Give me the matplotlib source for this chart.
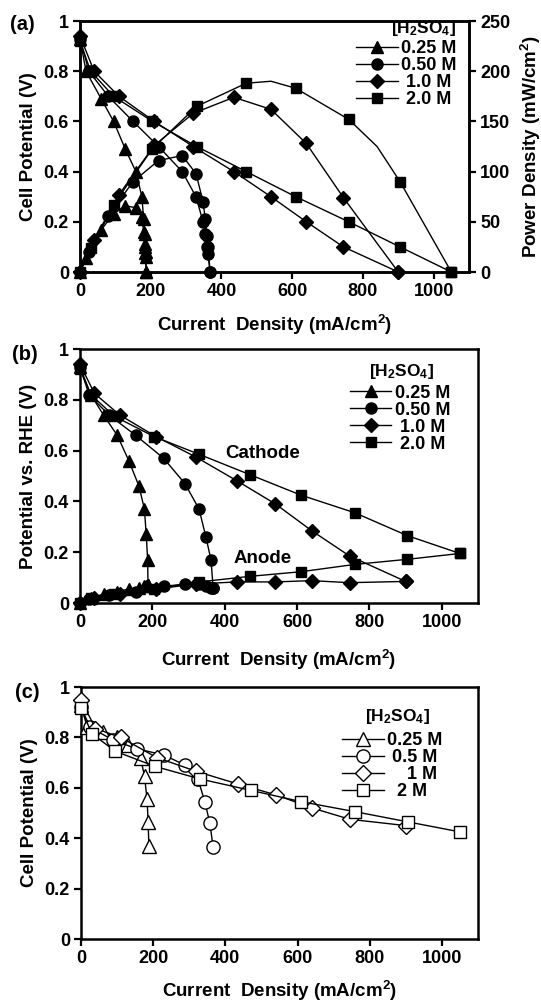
import matplotlib
matplotlib.use('Agg')
import matplotlib.pyplot as plt
from matplotlib.lines import Line2D
from matplotlib.ticker import FuncFormatter

plt.rcParams['font.family'] = ['Liberation Sans', 'DejaVu Sans']
plt.rcParams['font.weight'] = 'bold'
plt.rcParams['axes.labelweight'] = 'bold'
plt.rcParams['mathtext.fontset'] = 'custom'
plt.rcParams['mathtext.rm'] = 'Liberation Sans:bold'
plt.rcParams['mathtext.bf'] = 'Liberation Sans:bold'
plt.rcParams['mathtext.default'] = 'bf'

# ---- panel (a): cell potential (V) and power density (mW/cm2) ----
i_a_025 = [0, 17, 60, 95, 128, 158, 175, 180, 183, 185, 186, 187]
v_a_025 = [0.93, 0.80, 0.69, 0.60, 0.49, 0.40, 0.30, 0.21, 0.15, 0.10, 0.08, 0.0]
p_a_025 = [0, 14, 42, 58, 66, 64, 55, 40, 28, 19, 15, 0]

i_a_050 = [0, 25, 80, 150, 222, 289, 328, 348, 354, 358, 362, 368]
v_a_050 = [0.93, 0.80, 0.70, 0.60, 0.50, 0.40, 0.30, 0.20, 0.15, 0.10, 0.07, 0.0]
p_a_050 = [0, 20, 56, 90, 111, 116, 98, 70, 53, 36, 25, 0]

i_a_100 = [0, 40, 110, 210, 320, 435, 540, 640, 745, 900]
v_a_100 = [0.94, 0.80, 0.70, 0.60, 0.50, 0.40, 0.30, 0.20, 0.10, 0.0]
p_a_100 = [0, 32, 77, 126, 158, 174, 162, 128, 74, 0]

i_a_200 = [0, 30, 95, 205, 330, 470, 610, 760, 905, 1050]
v_a_200 = [0.92, 0.80, 0.70, 0.60, 0.50, 0.40, 0.30, 0.20, 0.10, 0.0]
p_a_200 = [0, 24, 67, 123, 165, 188, 183, 152, 90, 0]
# the drawn 2.0 M power curve bends between the markers
i_a_200_curve = [0, 30, 95, 205, 330, 470, 540, 610, 760, 840, 905, 1050]
p_a_200_curve = [0, 24, 67, 123, 165, 188, 190, 183, 152, 125, 90, 0]

# ---- panel (b): electrode potentials vs. RHE ----
i_b_025 = [0, 30, 65, 103, 135, 163, 178, 183, 187, 188]
cath_b_025 = [0.93, 0.82, 0.74, 0.66, 0.56, 0.46, 0.37, 0.27, 0.17, 0.07]
anod_b_025 = [0.0, 0.02, 0.035, 0.045, 0.055, 0.06, 0.065, 0.065, 0.07, 0.07]

i_b_050 = [0, 25, 80, 154, 231, 290, 329, 348, 362, 368]
cath_b_050 = [0.93, 0.82, 0.74, 0.66, 0.57, 0.47, 0.37, 0.26, 0.17, 0.06]
anod_b_050 = [0.0, 0.015, 0.03, 0.045, 0.065, 0.075, 0.073, 0.065, 0.06, 0.06]

i_b_100 = [0, 40, 110, 210, 320, 435, 540, 640, 745, 900]
cath_b_100 = [0.94, 0.825, 0.74, 0.655, 0.575, 0.48, 0.39, 0.285, 0.185, 0.085]
anod_b_100 = [0.0, 0.02, 0.035, 0.055, 0.075, 0.083, 0.083, 0.088, 0.08, 0.085]

i_b_200 = [0, 30, 95, 205, 330, 470, 610, 760, 905, 1050]
cath_b_200 = [0.92, 0.82, 0.735, 0.655, 0.585, 0.505, 0.425, 0.355, 0.265, 0.195]
anod_b_200 = [0.0, 0.02, 0.035, 0.055, 0.083, 0.105, 0.123, 0.152, 0.172, 0.195]

# ---- panel (c): cell potential ----
i_c_025 = [0, 17, 60, 100, 130, 165, 176, 183, 186, 188]
v_c_025 = [0.93, 0.84, 0.82, 0.80, 0.77, 0.72, 0.645, 0.555, 0.465, 0.37]
i_c_050 = [0, 25, 88, 154, 230, 288, 324, 343, 357, 366]
v_c_050 = [0.92, 0.84, 0.79, 0.755, 0.73, 0.69, 0.635, 0.545, 0.46, 0.365]
i_c_100 = [0, 40, 110, 210, 320, 435, 540, 640, 745, 900]
v_c_100 = [0.95, 0.835, 0.80, 0.72, 0.665, 0.615, 0.572, 0.52, 0.475, 0.45]
i_c_200 = [0, 30, 95, 205, 330, 470, 610, 760, 905, 1050]
v_c_200 = [0.915, 0.815, 0.745, 0.685, 0.635, 0.59, 0.545, 0.505, 0.465, 0.425]

labels_ab = ['0.25 M', '0.50 M', ' 1.0 M', ' 2.0 M']
labels_c = ['0.25 M', ' 0.5 M', '    1 M', '  2 M']
legend_title = '[H$_2$SO$_4$]'

markers = ['^', 'o', 'D', 's']
msizes = [8.5, 8, 7, 6.5]
msizes_open = [9.5, 9.5, 8, 8]

FS_TICK = 13
FS_LAB = 13.5
FS_LEG = 13
FS_HEAD = 12.5
W, H = 541, 1002
fig = plt.figure(figsize=(W / 100, H / 100), dpi=100)


def px_axes(left, right, top, bottom):
    return fig.add_axes([left / W, 1 - bottom / H, (right - left) / W, (bottom - top) / H])


def style(ax, ylabel, xlab_y, ylab_x):
    ax.set_xlim(0, 1100)
    ax.set_ylim(0, 1)
    ax.set_xticks([0, 200, 400, 600, 800, 1000])
    ax.set_yticks([0, 0.2, 0.4, 0.6, 0.8, 1.0])
    ax.yaxis.set_major_formatter(FuncFormatter(lambda v, p: f'{v:g}'))
    for s in ax.spines.values():
        s.set_linewidth(1.8)
    ax.tick_params(direction='out', length=5, width=1.6, labelsize=FS_TICK, pad=3)
    ax.set_xlabel('Current  Density (mA/cm$^2$)', fontsize=FS_LAB)
    ax.set_ylabel(ylabel, fontsize=FS_LAB)
    ax.xaxis.set_label_coords(0.5, xlab_y)
    ax.yaxis.set_label_coords(ylab_x, 0.5)


def add_legend(ax, labels, filled, anchor, head_xy):
    handles = []
    for k in range(4):
        if filled:
            h = Line2D([], [], color='black', lw=1.0, marker=markers[k], ms=msizes[k],
                       mfc='black', mec='black')
        else:
            h = Line2D([], [], color='black', lw=1.0, marker=markers[k], ms=msizes_open[k],
                       mfc='white', mec='black', mew=1.0)
        handles.append(h)
    ax.legend(handles, labels, loc='upper right', bbox_to_anchor=anchor, frameon=False,
              fontsize=FS_LEG, handlelength=2.3, handletextpad=0.2,
              labelspacing=0.0, borderpad=0, borderaxespad=0)
    ax.text(head_xy[0], head_xy[1], legend_title, transform=ax.transAxes,
            fontsize=FS_HEAD, fontweight='bold', ha='center', va='baseline')


# ================= (a) =================
axa = px_axes(80, 469, 21, 272)
axa2 = axa.twinx()
series_a = [(i_a_025, v_a_025, p_a_025), (i_a_050, v_a_050, p_a_050),
            (i_a_100, v_a_100, p_a_100), (i_a_200, v_a_200, p_a_200)]
for k, (ii, vv, pp) in enumerate(series_a):
    axa.plot(ii, vv, color='black', lw=1.0, marker=markers[k], ms=msizes[k],
             mfc='black', mec='black', clip_on=False, zorder=3)
    if k == 3:
        axa2.plot(i_a_200_curve, p_a_200_curve, color='black', lw=1.0, clip_on=False)
        axa2.plot(ii, pp, ls='none', marker=markers[k], ms=msizes[k],
                  mfc='black', mec='black', clip_on=False)
    else:
        axa2.plot(ii, pp, color='black', lw=1.0, marker=markers[k], ms=msizes[k],
                  mfc='black', mec='black', clip_on=False)
style(axa, 'Cell Potential (V)', -0.163, -0.11)
axa2.set_ylim(0, 250)
axa2.set_yticks([0, 50, 100, 150, 200, 250])
axa2.tick_params(direction='out', length=5, width=1.6, labelsize=FS_TICK, pad=3)
axa2.set_ylabel('Power Density (mW/cm$^2$)', fontsize=FS_LAB)
axa2.yaxis.set_label_coords(1.128, 0.5)
for s in axa2.spines.values():
    s.set_linewidth(1.8)
add_legend(axa2, labels_ab, True, (0.969, 0.924), (0.882, 0.952))
fig.text(22 / W, 1 - 24 / H, '(a)', fontsize=14.5, fontweight='bold', ha='center', va='center')

# ================= (b) =================
axb = px_axes(80, 478, 349, 603)
series_b = [(i_b_025, cath_b_025, anod_b_025), (i_b_050, cath_b_050, anod_b_050),
            (i_b_100, cath_b_100, anod_b_100), (i_b_200, cath_b_200, anod_b_200)]
for k, (ii, cc, aa) in enumerate(series_b):
    for yy in (cc, aa):
        axb.plot(ii, yy, color='black', lw=1.0, marker=markers[k], ms=msizes[k],
                 mfc='black', mec='black', clip_on=False, zorder=3)
style(axb, 'Potential vs. RHE (V)', -0.177, -0.108)
axb.text(505, 0.587, 'Cathode', fontsize=FS_LAB, fontweight='bold', ha='center', va='center')
axb.text(505, 0.174, 'Anode', fontsize=FS_LAB, fontweight='bold', ha='center', va='center')
add_legend(axb, labels_ab, True, (0.931, 0.860), (0.808, 0.894))
fig.text(25 / W, 1 - 354 / H, '(b)', fontsize=14.5, fontweight='bold', ha='center', va='center')

# ================= (c) =================
axc = px_axes(81, 478, 687, 939)
series_c = [(i_c_025, v_c_025), (i_c_050, v_c_050), (i_c_100, v_c_100), (i_c_200, v_c_200)]
for k, (ii, vv) in enumerate(series_c):
    axc.plot(ii, vv, color='black', lw=1.0, marker=markers[k], ms=msizes_open[k],
             mfc='white', mec='black', mew=1.0, clip_on=False, zorder=3)
style(axc, 'Cell Potential (V)', -0.16, -0.108)
add_legend(axc, labels_c, False, (0.911, 0.820), (0.798, 0.865))
fig.text(27 / W, 1 - 692 / H, '(c)', fontsize=14.5, fontweight='bold', ha='center', va='center')

fig.savefig('out.png', dpi=100)
